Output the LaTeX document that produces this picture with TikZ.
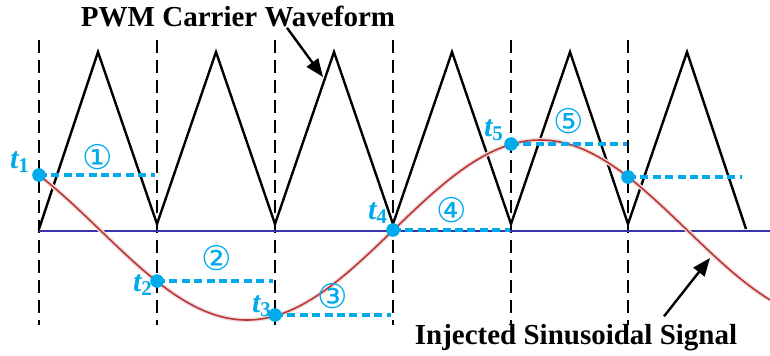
\documentclass[tikz,border=0pt]{standalone}
\usepackage{fontspec}
\setmainfont{Liberation Serif}
\newfontfamily\circfont{DejaVu Sans}
\usetikzlibrary{arrows.meta,positioning}
\definecolor{dotblue}{RGB}{0,170,235}
\definecolor{sigred}{RGB}{185,55,55}
\definecolor{axisblue}{RGB}{60,50,170}

\begin{document}
\begin{tikzpicture}[
            x=0.5pt, y=-0.5pt,
            carrier/.style={black, line width=1.2pt, line join=miter},
            gridline/.style={black, line width=1.2pt, dash pattern=on 6.5pt off 3.5pt},
            pulse/.style={dotblue, line width=2.3pt, dash pattern=on 4pt off 2.2pt},
            tdot/.style={circle, fill=dotblue, inner sep=0pt, minimum size=6.8pt},
            tlabel/.style={text=dotblue, inner sep=0pt, font=\fontsize{15}{15}\selectfont\bfseries\itshape},
            seg/.style={text=dotblue, inner sep=0pt, font=\circfont\fontsize{17}{17}\selectfont},
            title/.style={inner sep=0pt, font=\fontsize{14.5}{14.5}\selectfont\bfseries},
            pointer/.style={-{Triangle[length=9pt,width=7pt]}, line width=1.2pt}
        ]
            \useasboundingbox (0,0) rectangle (770,355);

            % sampling instants
            \foreach \x in {39,157,275,393,511,628}
                \draw[gridline] (\x,40) -- (\x,325);

            % zero line and carrier
            \draw[axisblue, line width=1pt] (39,231) -- (770,231);
            \draw[carrier] (39,229) -- (98,52)
                \foreach \x in {157,275,393,511,628} { -- (\x,224) -- (\x+59,52) }
                -- (746,229);

            % injected signal
            \draw[sigred!18, line width=2.2pt, domain=39:770, samples=150, smooth]
                plot (\x, {230+90*sin(0.61329*(\x-100))});
            \draw[sigred, line width=0.8pt, domain=39:770, samples=150, smooth]
                plot (\x, {230+90*sin(0.61329*(\x-100))});

            % sampled points
            \coordinate (s1) at (39,175);
            \coordinate (s2) at (157,281);
            \coordinate (s3) at (275,315);
            \coordinate (s4) at (393,230);
            \coordinate (s5) at (511,144);
            \coordinate (s6) at (628,177);

            \draw[pulse] (s1) -- (155,175);
            \draw[pulse] (s2) -- (273,281);
            \draw[pulse] (s3) -- (391,315);
            \draw[pulse] (s4) -- (510,230);
            \draw[pulse] (s5) -- (627,144);
            \draw[pulse] (s6) -- (742,177);

            \foreach \i in {1,...,6}
                \node[tdot] (t\i) at (s\i) {};

            \node[tlabel] (l1) at (20,162) {t\textsubscript{\upshape 1}};
            \node[tlabel] (l2) at (143,285) {t\textsubscript{\upshape 2}};
            \node[tlabel] (l3) at (262,306) {t\textsubscript{\upshape 3}};
            \node[tlabel] (l4) at (378,213) {t\textsubscript{\upshape 4}};
            \node[tlabel] (l5) at (494,130) {t\textsubscript{\upshape 5}};

            \node[seg] (n1) at (98,157) {①};
            \node[seg] (n2) at (217,258) {②};
            \node[seg] (n3) at (333,296) {③};
            \node[seg] (n4) at (452,210) {④};
            \node[seg] (n5) at (569,121) {⑤};

            % captions
            \coordinate (cpeak) at (323,77);
            \coordinate (cwave) at (710,258);
            \node[title] (carrierlbl) at (238,17) {PWM Carrier Waveform};
            \node[title] (signallbl) at (576,338) {Injected Sinusoidal Signal};
            \draw[pointer] ([xshift=24.5pt]carrierlbl.south) -- (cpeak);
            \draw[pointer] ([xshift=44pt,yshift=4pt]signallbl.north) -- (cwave);
        \end{tikzpicture}
\end{document}
